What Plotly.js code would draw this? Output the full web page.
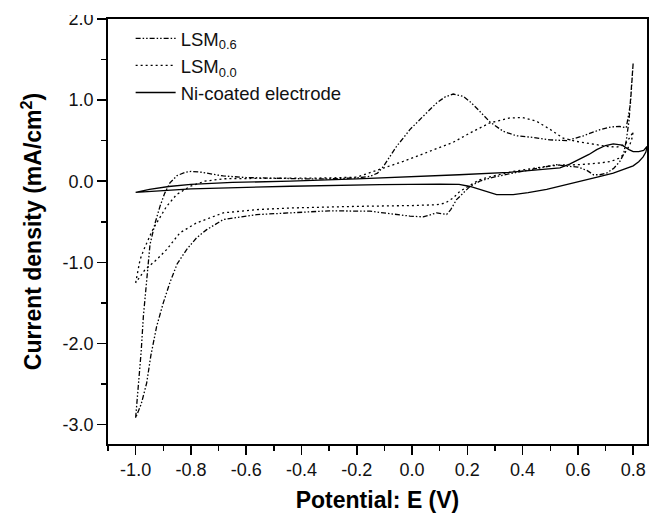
<!DOCTYPE html>
<html>
<head>
<meta charset="utf-8">
<script src="https://cdn.plot.ly/plotly-3.0.1.min.js"></script>
<style>
html,body{margin:0;padding:0;background:#fff;}
#wrap{position:relative;width:649px;height:518px;}
#chart{width:649px;height:518px;}
#topmask{position:absolute;left:40px;top:0;width:64px;height:15px;background:#fff;}
</style>
</head>
<body>
<div id="wrap">
<div id="chart"></div>
<div id="topmask"></div>
</div>
<script>
// LSM0.6 cyclic voltammogram (closed loop: anodic branch then cathodic return)
const lsm06X = [-1.0,-0.99,-0.98,-0.972,-0.96,-0.948,-0.93,-0.912,-0.895,-0.876,-0.85,-0.82,-0.80,-0.76,-0.72,-0.683,-0.6,-0.5,-0.4,-0.3,-0.2,-0.152,-0.125,-0.104,-0.08,-0.056,-0.03,-0.008,0.04,0.089,0.12,0.149,0.185,0.21,0.234,0.282,0.33,0.378,0.438,0.499,0.559,0.62,0.68,0.72,0.75,0.775,0.79,0.80,
  0.795,0.785,0.775,0.765,0.752,0.73,0.704,0.68,0.656,0.634,0.60,0.56,0.523,0.47,0.427,0.35,0.282,0.245,0.21,0.185,0.161,0.14,0.125,0.105,0.089,0.06,0.04,-0.008,-0.08,-0.152,-0.3,-0.442,-0.562,-0.683,-0.743,-0.78,-0.815,-0.85,-0.876,-0.90,-0.924,-0.945,-0.96,-0.98,-1.0];
const lsm06Y = [-2.917,-2.55,-2.1,-1.665,-1.2,-0.78,-0.52,-0.31,-0.15,-0.02,0.07,0.11,0.122,0.11,0.085,0.065,0.045,0.035,0.03,0.03,0.04,0.06,0.10,0.18,0.30,0.43,0.54,0.636,0.80,0.965,1.04,1.075,1.046,0.98,0.90,0.73,0.615,0.56,0.54,0.51,0.50,0.56,0.636,0.67,0.675,0.66,0.95,1.46,
  1.15,0.75,0.50,0.33,0.245,0.16,0.10,0.08,0.08,0.13,0.175,0.185,0.204,0.17,0.143,0.09,0.04,0.0,-0.063,-0.15,-0.227,-0.35,-0.41,-0.40,-0.39,-0.42,-0.44,-0.43,-0.40,-0.37,-0.365,-0.39,-0.412,-0.473,-0.597,-0.70,-0.84,-1.02,-1.25,-1.5,-1.79,-2.15,-2.486,-2.75,-2.917];

// LSM0.0
const lsm00X = [-1.0,-0.992,-0.984,-0.97,-0.954,-0.94,-0.924,-0.888,-0.852,-0.803,-0.75,-0.683,-0.55,-0.44,-0.3,-0.2,-0.116,-0.032,0.065,0.149,0.21,0.282,0.354,0.40,0.45,0.499,0.547,0.596,0.65,0.704,0.74,0.77,0.79,0.80,
  0.795,0.788,0.77,0.752,0.72,0.68,0.607,0.535,0.487,0.42,0.366,0.30,0.246,0.21,0.173,0.149,0.12,0.089,0.0,-0.2,-0.44,-0.562,-0.683,-0.78,-0.84,-0.888,-0.924,-0.966,-0.99,-1.0];
const lsm00Y = [-1.254,-1.1,-0.967,-0.84,-0.72,-0.61,-0.514,-0.31,-0.165,-0.063,0.0,0.03,0.035,0.035,0.04,0.05,0.143,0.245,0.37,0.48,0.595,0.72,0.78,0.785,0.74,0.64,0.53,0.49,0.46,0.43,0.42,0.45,0.55,0.61,
  0.52,0.45,0.35,0.287,0.245,0.225,0.204,0.20,0.183,0.15,0.12,0.07,0.02,-0.05,-0.125,-0.206,-0.27,-0.29,-0.30,-0.31,-0.33,-0.35,-0.39,-0.514,-0.637,-0.843,-0.967,-1.09,-1.2,-1.254];

// Ni-coated electrode
const niX = [-1.0,-0.95,-0.88,-0.80,-0.65,-0.44,-0.2,-0.116,0.0,0.17,0.35,0.50,0.535,0.57,0.607,0.64,0.668,0.70,0.728,0.76,0.785,0.80,0.82,0.838,0.85,
  0.846,0.836,0.82,0.80,0.75,0.728,0.67,0.607,0.55,0.487,0.42,0.366,0.306,0.27,0.246,0.21,0.17,0.10,-0.116,-0.44,-0.80,-0.95,-1.0];
const niY = [-0.137,-0.10,-0.065,-0.04,-0.015,0.0,0.03,0.04,0.055,0.08,0.11,0.15,0.165,0.21,0.27,0.33,0.39,0.44,0.46,0.445,0.39,0.365,0.365,0.38,0.43,
  0.36,0.30,0.24,0.19,0.13,0.10,0.05,0.0,-0.05,-0.10,-0.14,-0.165,-0.165,-0.13,-0.10,-0.065,-0.04,-0.035,-0.042,-0.062,-0.095,-0.12,-0.137];

const seriesNames = ['LSM<sub>0.6</sub>','LSM<sub>0.0</sub>','Ni-coated electrode'];

const xTickVals = [-1.0,-0.8,-0.6,-0.4,-0.2,0.0,0.2,0.4,0.6,0.8];
const xTickText = ['-1.0','-0.8','-0.6','-0.4','-0.2','0.0','0.2','0.4','0.6','0.8'];
const yTickVals = [2.0,1.0,0.0,-1.0,-2.0,-3.0];
const yTickText = ['2.0','1.0','0.0','-1.0','-2.0','-3.0'];

const FONT = 'Liberation Sans, Arial, sans-serif';

const traces = [
  {x: lsm06X, y: lsm06Y, name: seriesNames[0], mode: 'lines',
   line: {color: '#000', width: 1.3, dash: '5px,2px,1.5px,2px,1.5px,2px'}},
  {x: lsm00X, y: lsm00Y, name: seriesNames[1], mode: 'lines',
   line: {color: '#000', width: 1.3, dash: '2px,3px'}},
  {x: niX, y: niY, name: seriesNames[2], mode: 'lines',
   line: {color: '#000', width: 1.3}}
];

const axisCommon = {
  showline: true, mirror: true, linecolor: '#000', linewidth: 1.8,
  ticks: 'outside', ticklen: 9, tickwidth: 1.5, tickcolor: '#000',
  showgrid: false, zeroline: false, automargin: false,
  tickfont: {family: FONT, size: 18, color: '#111'},
};

const layout = {
  width: 649, height: 518,
  margin: {l: 108, r: 2, t: 19, b: 74},
  paper_bgcolor: '#fff', plot_bgcolor: '#fff',
  font: {family: FONT, color: '#000'},
  showlegend: true,
  legend: {x: 0.042, y: 0.998, xanchor: 'left', yanchor: 'top',
           bgcolor: 'rgba(0,0,0,0)', borderwidth: 0, itemwidth: 40,
           font: {family: FONT, size: 18.5, color: '#111'}, tracegroupgap: 0},
  xaxis: Object.assign({}, axisCommon, {
    range: [-1.1, 0.85], tickvals: xTickVals, ticktext: xTickText,
    minor: {dtick: 0.1, tick0: 0, ticks: 'outside', ticklen: 5, tickwidth: 1.5, tickcolor: '#000'},
    title: {text: '<b>Potential: E (V)</b>', font: {family: FONT, size: 23, color: '#000'}, standoff: 12}
  }),
  yaxis: Object.assign({}, axisCommon, {
    range: [-3.24, 2.0], tickvals: yTickVals, ticktext: yTickText,
    minor: {dtick: 0.5, tick0: 0, ticks: 'outside', ticklen: 5, tickwidth: 1.5, tickcolor: '#000'},
    title: {text: '<b>Current density (mA/cm<sup>2</sup>)</b>', font: {family: FONT, size: 23, color: '#000'}, standoff: 14}
  })
};

Plotly.newPlot('chart', traces, layout, {displayModeBar: false, staticPlot: true});
</script>
</body>
</html>
